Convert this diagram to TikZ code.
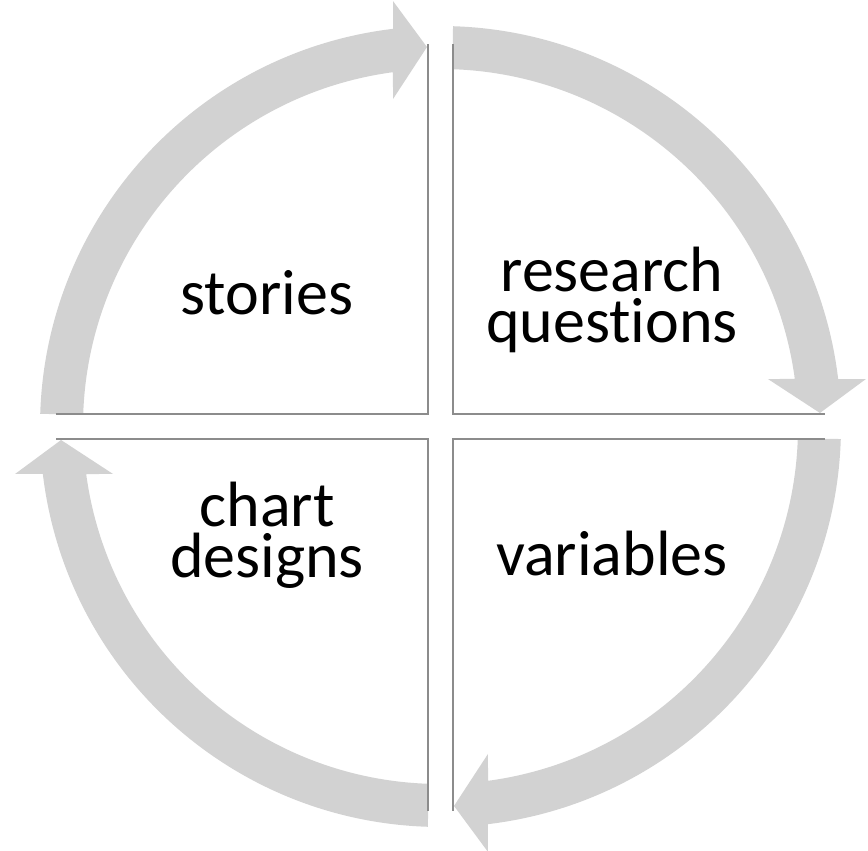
\documentclass[tikz,border=0pt]{standalone}
\usepackage{fontspec}
\setmainfont{Carlito}[Ligatures=NoCommon]
\usepackage{tikz}
\definecolor{arcgray}{RGB}{210,210,210}
\definecolor{edgegray}{RGB}{140,140,140}
\tikzset{
  cyclearrow/.style={fill=arcgray},
  quadedge/.style={edgegray,line width=2pt},
  label/.style={align=center,inner sep=0pt,font=\fontsize{64}{51}\selectfont}
}

\begin{document}
\begin{tikzpicture}[x=1pt,y=1pt]
                \useasboundingbox (-440.5,-424.5) rectangle (427.5,426.5);
                % gray arrows round the circle
                \fill[cyclearrow,rotate=0] (178.0:357.5) arc[start angle=178.0,end angle=97.64,radius=357.5] -- (98.25:330.9) -- (92.04:379.7) -- (96.37:428.1) -- (96.81:400.5) arc[start angle=96.81,end angle=178.21,radius=400.5] -- cycle;
                \fill[cyclearrow,rotate=-90] (178.0:357.5) arc[start angle=178.0,end angle=97.64,radius=357.5] -- (98.25:330.9) -- (92.04:379.7) -- (96.37:428.1) -- (96.81:400.5) arc[start angle=96.81,end angle=178.21,radius=400.5] -- cycle;
                \fill[cyclearrow,rotate=-180] (178.0:357.5) arc[start angle=178.0,end angle=97.64,radius=357.5] -- (98.25:330.9) -- (92.04:379.7) -- (96.37:428.1) -- (96.81:400.5) arc[start angle=96.81,end angle=178.21,radius=400.5] -- cycle;
                \fill[cyclearrow,rotate=-270] (178.0:357.5) arc[start angle=178.0,end angle=97.64,radius=357.5] -- (98.25:330.9) -- (92.04:379.7) -- (96.37:428.1) -- (96.81:400.5) arc[start angle=96.81,end angle=178.21,radius=400.5] -- cycle;

                % quadrant edges
                \draw[quadedge] (-384.5,12.5) -- (-12.5,12.5) -- (-12.5,382.5);
                \draw[quadedge] (12.5,382.5) -- (12.5,12.5) -- (384.5,12.5);
                \draw[quadedge] (384.5,-12.5) -- (12.5,-12.5) -- (12.5,-384.5);
                \draw[quadedge] (-12.5,-384.5) -- (-12.5,-12.5) -- (-384.5,-12.5);

                % labels (base = last line)
                \node[label,anchor=base] (stories) at (-173.5,111.5) {stories};
                \node[label,anchor=base] (questions) at (171.5,83.5) {research\\questions};
                \node[label,anchor=base] (variables) at (171.5,-149.5) {variables};
                \node[label,anchor=base] (designs) at (-173.5,-151.5) {chart\\designs};
\end{tikzpicture}
\end{document}
